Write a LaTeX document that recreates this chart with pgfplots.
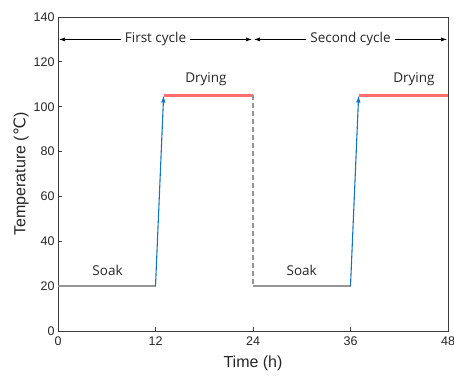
\documentclass[border=0pt]{standalone}
\usepackage{fontspec}
\setmainfont{Liberation Sans}
\newfontfamily\annfont{Open Sans}
\newfontfamily\dejavu{DejaVu Sans}
\usepackage{pgfplots}
\pgfplotsset{compat=1.18}
\usetikzlibrary{arrows.meta}
\definecolor{soakgray}{RGB}{150,150,150}
\definecolor{arrowblue}{RGB}{20,115,195}
\definecolor{pinkred}{RGB}{255,110,110}
\definecolor{axgray}{RGB}{60,60,60}
\begin{document}
\begin{tikzpicture}
\begin{axis}[
  scale only axis,
  width=390pt, height=314pt,
  xmin=0, xmax=48, ymin=0, ymax=140,
  xtick={0,12,24,36,48},
  ytick={0,20,...,140},
  xtick pos=bottom, ytick pos=left,
  tick align=inside,
  major tick length=4pt,
  axis line style={axgray, line width=0.9pt},
  tick style={axgray, line width=0.9pt},
  /pgf/number format/assume math mode=true,
  tick label style={font=\fontsize{12.5}{14}\selectfont, text=black!85},
  xticklabel style={yshift=-2pt},
  label style={font=\fontsize{16}{18}\selectfont, text=black!85},
  xlabel={Time (h)},
  ylabel={Temperature ({\dejavu ℃})},
  xlabel style={yshift=-4pt},
  ylabel style={yshift=-2pt},
  clip=false,
]
\addplot[pinkred, line width=2.2pt] coordinates {(13,105) (24,105)};
\addplot[pinkred, line width=2.2pt] coordinates {(37,105) (48,105)};
\addplot[soakgray, line width=1.5pt] coordinates {(0,20) (12,20)};
\addplot[soakgray, line width=1.4pt, dash pattern=on 5pt off 3pt] coordinates {(24,105) (24,20)};
\addplot[soakgray, line width=1.5pt] coordinates {(24,20) (36,20)};
\addplot[arrowblue, line width=1.1pt, -{Latex[length=7pt,width=4.5pt]}] coordinates {(12,20) (13,105)};
\addplot[arrowblue, line width=1.1pt, -{Latex[length=7pt,width=4.5pt]}] coordinates {(36,20) (37,105)};

\draw[black, line width=0.7pt, {Latex[length=6pt,width=4pt]}-{Latex[length=6pt,width=4pt]}, shorten >=1pt, shorten <=1pt]
  (axis cs:0,130) -- (axis cs:24,130);
\draw[black, line width=0.7pt, {Latex[length=6pt,width=4pt]}-{Latex[length=6pt,width=4pt]}, shorten >=1pt, shorten <=1pt]
  (axis cs:24,130) -- (axis cs:48,130);
\node[fill=white, inner xsep=4pt, inner ysep=1pt, font=\annfont\fontsize{13.5}{15}\selectfont, text=black!85] at (axis cs:12,130) {First cycle};
\node[fill=white, inner xsep=4pt, inner ysep=1pt, font=\annfont\fontsize{13.5}{15}\selectfont, text=black!85] at (axis cs:36,130) {Second cycle};
\node[font=\annfont\fontsize{13.5}{15}\selectfont, text=black!85] at (axis cs:6.1,27) {Soak};
\node[font=\annfont\fontsize{13.5}{15}\selectfont, text=black!85] at (axis cs:30.0,27) {Soak};
\node[font=\annfont\fontsize{13.5}{15}\selectfont, text=black!85] at (axis cs:18.2,112.5) {Drying};
\node[font=\annfont\fontsize{13.5}{15}\selectfont, text=black!85] at (axis cs:43.8,112.5) {Drying};
\end{axis}
\pgfresetboundingbox
\path ([shift={(-58pt,-48pt)}]current axis.south west) rectangle ([shift={(6pt,17pt)}]current axis.north east);
\end{tikzpicture}
\end{document}
